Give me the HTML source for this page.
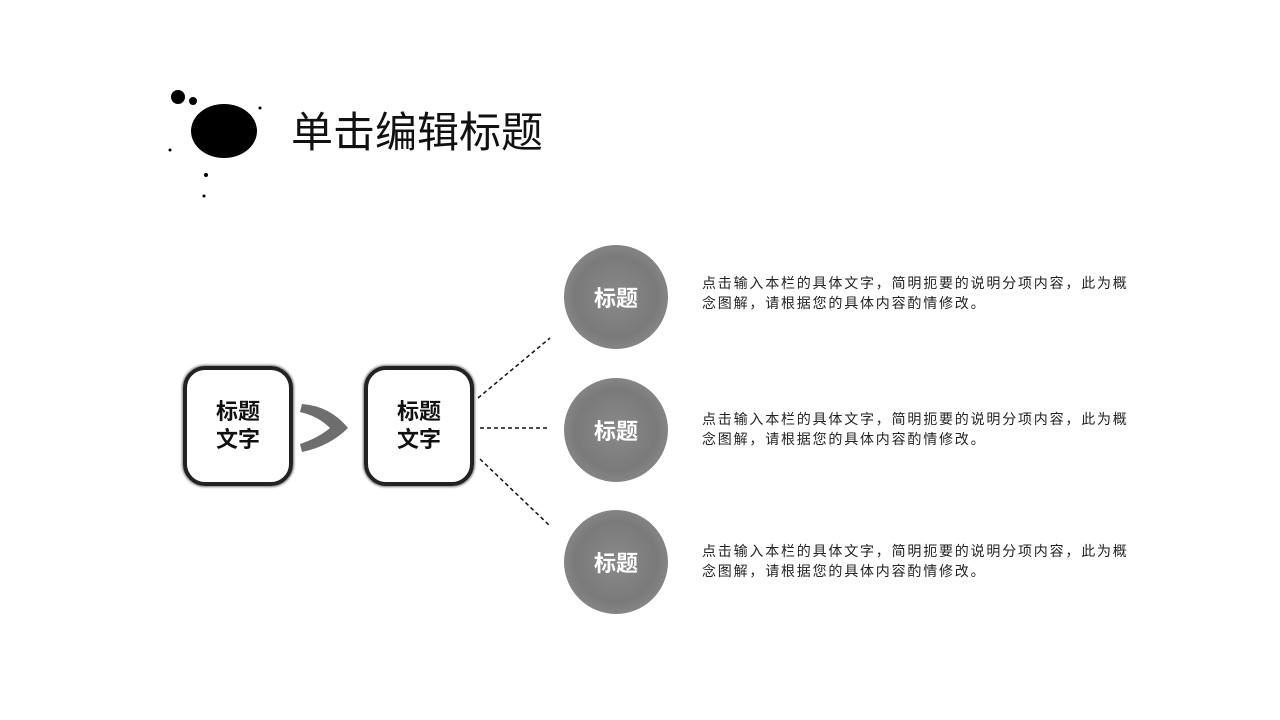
<!DOCTYPE html>
<html><head><meta charset="utf-8"><style>
body{margin:0;width:1280px;height:720px;background:#fff;position:relative;overflow:hidden;font-family:"Liberation Sans","Noto Sans CJK SC",sans-serif}
.t{position:absolute;left:291px;top:106px;font-size:42px;color:#111;line-height:54px}
.box{position:absolute;width:102px;height:112px;border:4px solid #222;border-radius:22px;box-shadow:0 0 2px 1px #777;display:flex;align-items:center;justify-content:center;text-align:center;font-weight:bold;font-size:22px;line-height:28px;color:#111}
.c{position:absolute;width:104px;height:104px;border-radius:50%;background:radial-gradient(circle,#8a8a8a 0,#7a7a7a 55%,#999 100%);color:#fff;font-weight:bold;font-size:22px;display:flex;align-items:center;justify-content:center}
.p{position:absolute;left:702px;font-size:14px;line-height:20px;color:#222;white-space:nowrap;letter-spacing:1.8px}
</style></head><body>
<svg width="1280" height="720" style="position:absolute;left:0;top:0">
<ellipse cx="224" cy="131" rx="33" ry="27" fill="#000"/>
<circle cx="178" cy="97" r="7" fill="#000"/>
<circle cx="193" cy="101" r="4" fill="#000"/>
<circle cx="206" cy="175" r="2" fill="#000"/><circle cx="204" cy="196" r="1.5" fill="#000"/><circle cx="260" cy="108" r="1.5" fill="#000"/><circle cx="170" cy="150" r="1.5" fill="#000"/>
<path d="M302 404 Q330 406 348 428 Q330 446 302 452 L300 444 Q318 438 330 428 Q318 416 300 412Z" fill="#555" opacity=".85"/>
<g stroke="#111" stroke-width="1.5" stroke-dasharray="4,3" fill="none">
<line x1="478" y1="398" x2="550" y2="338"/>
<line x1="480" y1="428" x2="548" y2="428"/>
<line x1="480" y1="459" x2="550" y2="526"/>
</g></svg>
<div class="t">单击编辑标题</div>
<div class="box" style="left:183px;top:366px">标题<br>文字</div>
<div class="box" style="left:364px;top:366px">标题<br>文字</div>
<div class="c" style="left:564px;top:245px">标题</div>
<div class="c" style="left:564px;top:378px">标题</div>
<div class="c" style="left:564px;top:510px">标题</div>
<div class="p" style="top:273px">点击输入本栏的具体文字，简明扼要的说明分项内容，此为概<br>念图解，请根据您的具体内容酌情修改。</div>
<div class="p" style="top:409px">点击输入本栏的具体文字，简明扼要的说明分项内容，此为概<br>念图解，请根据您的具体内容酌情修改。</div>
<div class="p" style="top:541px">点击输入本栏的具体文字，简明扼要的说明分项内容，此为概<br>念图解，请根据您的具体内容酌情修改。</div>
</body></html>
